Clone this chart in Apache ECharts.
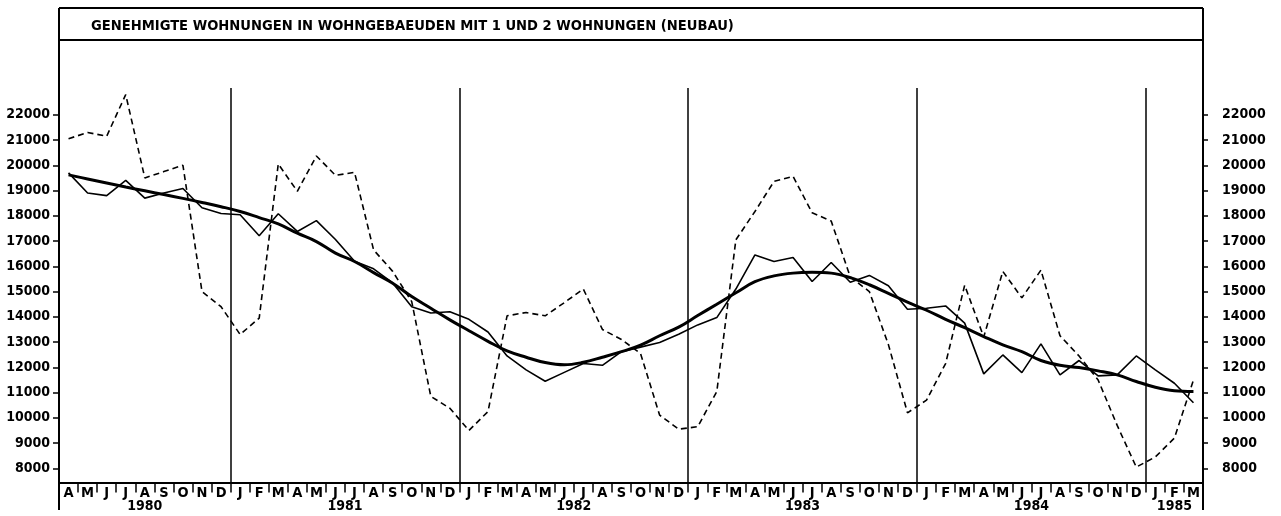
<!DOCTYPE html>
<html>
<head>
<meta charset="utf-8">
<script src="https://cdn.jsdelivr.net/npm/echarts@6/dist/echarts.min.js"></script>
<style>
  html, body { margin: 0; padding: 0; background: #fff; }
  #chart { width: 1281px; height: 516px; }
</style>
</head>
<body>
<div id="chart"></div>
<script>
// Months April 1980 – March 1985
const monthLabels = [
  'A','M','J','J','A','S','O','N','D',
  'J','F','M','A','M','J','J','A','S','O','N','D',
  'J','F','M','A','M','J','J','A','S','O','N','D',
  'J','F','M','A','M','J','J','A','S','O','N','D',
  'J','F','M','A','M','J','J','A','S','O','N','D',
  'J','F','M'
];
const years = ['1980', '1981', '1982', '1983', '1984', '1985'];
const monthsPerYear = [9, 12, 12, 12, 12, 3];
const yTickValues = [8000, 9000, 10000, 11000, 12000, 13000, 14000, 15000,
  16000, 17000, 18000, 19000, 20000, 21000, 22000];

// Original monthly values (dashed)
const originalValues = [
  21050, 21300, 21150, 22800, 19500, 19750, 20000, 15000, 14400,
  13300, 13950, 20050, 18970, 20370, 19600, 19720, 16650, 15800, 14600, 10850, 10380,
  9500, 10250, 14040, 14170, 14040, 14560, 15100, 13500, 13100, 12550, 10110, 9550,
  9650, 11040, 17050, 18170, 19360, 19560, 18120, 17790, 15580, 15000, 12900, 10200,
  10700, 12150, 15250, 13200, 15800, 14750, 15850, 13250, 12450, 11500, 9700, 8050,
  8450, 9200, 11500
];
// Seasonally adjusted values (thin line)
const adjustedValues = [
  19700, 18900, 18800, 19400, 18700, 18900, 19080, 18320, 18090,
  18040, 17210, 18080, 17380, 17810, 17060, 16200, 15900, 15340, 14400, 14150, 14200,
  13900, 13400, 12450, 11900, 11450, 11800, 12150, 12080, 12620, 12800, 12980, 13310,
  13680, 13970, 15100, 16450, 16190, 16350, 15400, 16150, 15370, 15640, 15230, 14300,
  14340, 14430, 13750, 11740, 12490, 11790, 12930, 11700, 12270, 11660, 11700, 12450,
  11900, 11370, 10600
];
// Trend-cycle component (thick line)
const trendValues = [
  19620, 19460, 19300, 19140, 18990, 18840, 18690, 18530, 18360,
  18170, 17930, 17680, 17310, 16980, 16520, 16190, 15750, 15330, 14800, 14340, 13880,
  13450, 13030, 12650, 12400, 12190, 12100, 12200, 12400, 12620, 12880, 13250, 13590,
  14050, 14500, 14950, 15390, 15620, 15730, 15760, 15730, 15550, 15270, 14930, 14580,
  14260, 13900, 13570, 13220, 12890, 12620, 12270, 12080, 11990, 11860, 11700, 11440,
  11210, 11070, 11040
];

// Layout
const W = 1281, H = 516;
const PLOT_LEFT = 59, PLOT_RIGHT = 1203, PLOT_TOP = 88, PLOT_BOTTOM = 482.5;
const FRAME_TOP = 8, HEADER_BOTTOM = 40, FRAME_BOTTOM = 510;
const INK = '#000';
const NUM_FONT = 'DejaVu Sans Condensed';

// Year labels are centred under each year's span of months
const yearCenters = [];
let acc = 0;
monthsPerYear.forEach(n => { yearCenters.push(acc + n / 2); acc += n; });
const yearAt = v => years[yearCenters.findIndex(c => Math.abs(c - v) < 1e-6)] || '';

// Index of each January, for the year dividers
const isJanuary = i => i > 0 && (i - monthsPerYear[0]) % 12 === 0;

const chart = echarts.init(document.getElementById('chart'), null, { renderer: 'canvas' });

const frameLine = (x1, y1, x2, y2) => ({
  type: 'line', silent: true,
  shape: { x1, y1, x2, y2 },
  style: { stroke: INK, lineWidth: 2 }
});

chart.setOption({
  animation: false,
  backgroundColor: '#fff',
  title: {
    text: 'GENEHMIGTE WOHNUNGEN IN WOHNGEBAEUDEN MIT 1 UND 2 WOHNUNGEN (NEUBAU)',
    left: 86, top: 14,
    textStyle: { fontFamily: NUM_FONT, fontSize: 14.6, fontWeight: 'bold', color: INK }
  },
  graphic: [
    frameLine(PLOT_LEFT, FRAME_TOP, PLOT_LEFT, FRAME_BOTTOM),
    frameLine(PLOT_RIGHT, FRAME_TOP, PLOT_RIGHT, FRAME_BOTTOM),
    frameLine(PLOT_LEFT, FRAME_TOP, PLOT_RIGHT, FRAME_TOP),
    frameLine(PLOT_LEFT, HEADER_BOTTOM, PLOT_RIGHT, HEADER_BOTTOM)
  ],
  grid: {
    left: PLOT_LEFT, right: W - PLOT_RIGHT, top: PLOT_TOP, bottom: H - PLOT_BOTTOM,
    containLabel: false
  },
  xAxis: [
    {
      type: 'category',
      data: monthLabels,
      boundaryGap: true,
      axisLine: { show: true, lineStyle: { color: INK, width: 2 } },
      axisTick: { show: true, interval: 0, length: 10, lineStyle: { color: INK, width: 1.5 } },
      axisLabel: {
        interval: 0, margin: 3, color: INK,
        fontFamily: NUM_FONT, fontWeight: 'bold', fontSize: 14.5
      },
      splitLine: {
        show: true,
        interval: (index) => isJanuary(index),
        lineStyle: { color: INK, width: 1.5 }
      }
    },
    {
      type: 'value',
      min: 0, max: monthLabels.length,
      position: 'bottom',
      offset: 14,
      axisLine: { show: false },
      axisTick: { show: false },
      splitLine: { show: false },
      axisLabel: {
        customValues: yearCenters,
        formatter: yearAt,
        margin: 3, color: INK,
        fontFamily: NUM_FONT, fontWeight: 'bold', fontSize: 14
      }
    }
  ],
  yAxis: [
    {
      type: 'value', position: 'left',
      min: 7440, max: 23060,
      axisLine: { show: false },
      splitLine: { show: false },
      axisTick: { show: true, customValues: yTickValues, length: 6, lineStyle: { color: INK, width: 1.5 } },
      axisLabel: {
        customValues: yTickValues, formatter: v => String(v),
        margin: 9, padding: [0, 0, 8, 0], color: INK,
        fontFamily: NUM_FONT, fontWeight: 'bold', fontSize: 14
      }
    },
    {
      type: 'value', position: 'right',
      min: 7440, max: 23060,
      axisLine: { show: false },
      splitLine: { show: false },
      axisTick: { show: true, customValues: yTickValues, length: 5, lineStyle: { color: INK, width: 1.5 } },
      axisLabel: {
        customValues: yTickValues, formatter: v => String(v),
        margin: 19, padding: [0, 0, 8, 0], color: INK,
        fontFamily: NUM_FONT, fontWeight: 'bold', fontSize: 14
      }
    }
  ],
  series: [
    {
      name: 'Ursprungswerte', type: 'line', data: originalValues,
      xAxisIndex: 0, yAxisIndex: 0, symbol: 'none', silent: true,
      lineStyle: { color: INK, width: 1.6, type: [6, 4] }
    },
    {
      name: 'Saisonbereinigte Werte', type: 'line', data: adjustedValues,
      xAxisIndex: 0, yAxisIndex: 0, symbol: 'none', silent: true,
      lineStyle: { color: INK, width: 1.6 }
    },
    {
      name: 'Trend', type: 'line', data: trendValues,
      xAxisIndex: 0, yAxisIndex: 0, symbol: 'none', silent: true, smooth: 0.4,
      lineStyle: { color: INK, width: 3 }
    }
  ]
});
</script>
</body>
</html>
